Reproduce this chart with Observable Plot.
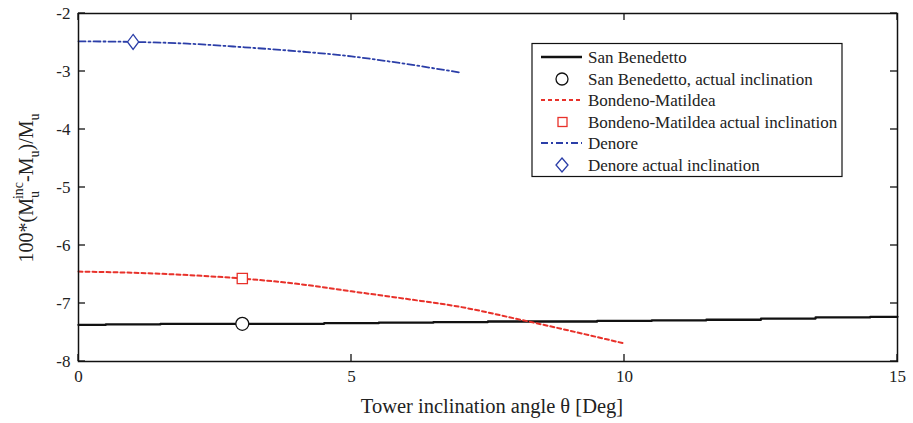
<!DOCTYPE html>
<html><head><meta charset="utf-8">
<script src="https://cdn.jsdelivr.net/npm/d3@7"></script>
<script src="https://cdn.jsdelivr.net/npm/@observablehq/plot@0.6"></script>
<style>body{margin:0;background:#fff} svg, svg text{font-family:"Liberation Serif","Times New Roman","DejaVu Serif",serif !important}</style>
</head><body><div id="chart"></div>
<script>
const sanAngles = [0,1,2,3,4,5,6,7,8,9,10,11,12,13,14,15];
const sanValues = [-7.37,-7.36,-7.35,-7.35,-7.35,-7.34,-7.33,-7.32,-7.31,-7.31,-7.30,-7.29,-7.28,-7.26,-7.24,-7.23];
const bonAngles = [0,1,2,3,4,5,6,7,8,9,10];
const bonValues = [-6.45,-6.47,-6.51,-6.57,-6.66,-6.79,-6.92,-7.06,-7.26,-7.47,-7.69];
const denAngles = [0,1,2,3,4,5,6,7];
const denValues = [-2.48,-2.49,-2.52,-2.58,-2.65,-2.74,-2.87,-3.02];
const actual = [
  {name:"San Benedetto", x:3, y:-7.35},
  {name:"Bondeno-Matildea", x:3, y:-6.57},
  {name:"Denore", x:1, y:-2.49}
];
const xTicks = [0,5,10,15];
const yTicks = [-8,-7,-6,-5,-4,-3,-2];
const legendItems = ["San Benedetto","San Benedetto, actual inclination","Bondeno-Matildea","Bondeno-Matildea actual inclination","Denore","Denore actual inclination"];

const san = sanAngles.map((x,i)=>({x,y:sanValues[i]}));
const bon = bonAngles.map((x,i)=>({x,y:bonValues[i]}));
const den = denAngles.map((x,i)=>({x,y:denValues[i]}));

const tallDiamond = {draw(ctx, size){ const w=Math.sqrt(size)*0.42, h=Math.sqrt(size)*0.56;
  ctx.moveTo(0,-h); ctx.lineTo(w,0); ctx.lineTo(0,h); ctx.lineTo(-w,0); ctx.closePath(); }};

const FONT = "'Liberation Serif','Times New Roman','DejaVu Serif',serif";
const RED_DASH = "4,3", BLUE_DASH = "7,3,2,3";
const W=913,H=423;
const plot = Plot.plot({
  width:W, height:H,
  marginLeft:78, marginTop:13, marginRight:16, marginBottom:62,
  style:{fontFamily:FONT, fontSize:"17px", color:"#222"},
  x:{domain:[0,15]},
  y:{domain:[-8,-2]},
  marks:[
    Plot.line(san,{x:"x",y:"y",stroke:"#111",strokeWidth:2.3,curve:"step"}),
    Plot.line(bon,{x:"x",y:"y",stroke:"#e8312a",strokeWidth:2,strokeDasharray:RED_DASH,curve:"monotone-x"}),
    Plot.line(den,{x:"x",y:"y",stroke:"#2b3ea8",strokeWidth:1.8,strokeDasharray:BLUE_DASH,curve:"monotone-x"}),
    Plot.dot([actual[0]],{x:"x",y:"y",r:6.5,stroke:"#111",fill:"white",strokeWidth:1.3}),
    Plot.dot([actual[1]],{x:"x",y:"y",r:6.5,symbol:"square2",stroke:"#e8312a",fill:"white",strokeWidth:1.3}),
    Plot.dot([actual[2]],{x:"x",y:"y",r:7.5,symbol:tallDiamond,stroke:"#2b3ea8",fill:"white",strokeWidth:1.3}),
    Plot.frame({stroke:"#111",strokeWidth:1.5}),
    Plot.axisX({ticks:xTicks,tickSize:0,tickPadding:8,tickFormat:d=>d,label:null,fontSize:17}),
    Plot.axisY({ticks:yTicks,tickSize:0,tickPadding:8,tickFormat:d=>d,label:null,fontSize:17})
  ]
});
document.getElementById("chart").appendChild(plot);
const svg = d3.select(plot).attr("font-family",FONT);
const sx = plot.scale("x"), sy = plot.scale("y");
const L=sx.apply(0), R=sx.apply(15), T=sy.apply(-2), B=sy.apply(-8);
const tk = svg.append("g").attr("stroke","#111").attr("stroke-width",1.3);
xTicks.forEach(v=>{ const x=sx.apply(v);
  tk.append("line").attr("x1",x).attr("x2",x).attr("y1",B).attr("y2",B-7);
  tk.append("line").attr("x1",x).attr("x2",x).attr("y1",T).attr("y2",T+7);
});
yTicks.forEach(v=>{ const y=sy.apply(v);
  tk.append("line").attr("x1",L).attr("x2",L+7).attr("y1",y).attr("y2",y);
  tk.append("line").attr("x1",R).attr("x2",R-7).attr("y1",y).attr("y2",y);
});
// X label
svg.append("text").attr("x",492).attr("y",413).attr("text-anchor","middle").attr("font-family",FONT)
  .attr("font-size",20.5).attr("fill","#222").text("Tower inclination angle θ [Deg]");
// Y label
const yl = svg.append("text").attr("transform","translate(33,188) rotate(-90)").attr("font-family",FONT)
  .attr("text-anchor","middle").attr("font-size",20).attr("fill","#222");
yl.append("tspan").text("100*(M");
yl.append("tspan").attr("font-size",14).attr("dy",6).text("u");
yl.append("tspan").attr("font-size",14).attr("dy",-16).attr("dx",-8).text("inc");
yl.append("tspan").attr("dy",10).text("-M");
yl.append("tspan").attr("font-size",14).attr("dy",6).text("u");
yl.append("tspan").attr("dy",-6).text(")/M");
yl.append("tspan").attr("font-size",14).attr("dy",6).text("u");
// Legend
const lg = svg.append("g").attr("text-anchor","start").attr("font-family",FONT);
lg.append("rect").attr("x",532).attr("y",43.5).attr("width",310).attr("height",133)
  .attr("fill","white").attr("stroke","#111").attr("stroke-width",1.2);
const rows=[57,79,100,122,143,165];
const styles=[
  {type:"line",stroke:"#111",dash:null,w:2.3},
  {type:"circle",stroke:"#111"},
  {type:"line",stroke:"#e8312a",dash:RED_DASH,w:2},
  {type:"square",stroke:"#e8312a"},
  {type:"line",stroke:"#2b3ea8",dash:BLUE_DASH,w:1.8},
  {type:"diamond",stroke:"#2b3ea8"}
];
legendItems.forEach((t,i)=>{
  const y=rows[i], s=styles[i];
  if(s.type==="line"){
    lg.append("line").attr("x1",541).attr("x2",582).attr("y1",y).attr("y2",y)
      .attr("stroke",s.stroke).attr("stroke-width",s.w).attr("stroke-dasharray",s.dash);
  } else if(s.type==="circle"){
    lg.append("circle").attr("cx",562).attr("cy",y).attr("r",6).attr("fill","none").attr("stroke",s.stroke).attr("stroke-width",1.3);
  } else if(s.type==="square"){
    lg.append("rect").attr("x",558).attr("y",y-4.5).attr("width",9).attr("height",9).attr("fill","none").attr("stroke",s.stroke).attr("stroke-width",1.3);
  } else {
    lg.append("path").attr("d",`M562,${y-7}L568,${y}L562,${y+7}L556,${y}Z`).attr("fill","none").attr("stroke",s.stroke).attr("stroke-width",1.3);
  }
  lg.append("text").attr("x",588).attr("y",y+6).attr("font-size",17).attr("fill","#222").text(t);
});
</script></body></html>
